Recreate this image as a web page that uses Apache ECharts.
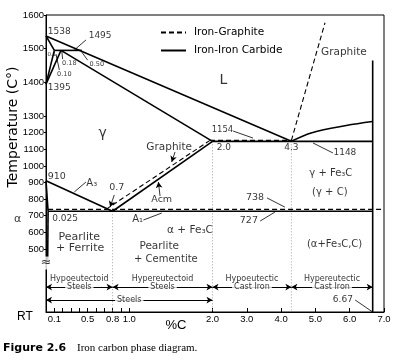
<!DOCTYPE html>
<html><head><meta charset="utf-8">
<script src="https://cdn.jsdelivr.net/npm/echarts@6/dist/echarts.min.js"></script>
<style>html,body{margin:0;padding:0;background:#fff}#c{width:399px;height:361px}</style>
</head><body><div id="c"></div>
<script>
// ---------------- data (real units: %C and °C; RT = room temperature) ----------------
const RT = 25;
// Iron - iron carbide (solid lines)
const liquidus       = [[0,1538],[4.3,1148]];
const deltaSolidus   = [[0,1538],[0.10,1495]];
const deltaGammaLow  = [[0,1395],[0.10,1495]];
const deltaGammaHigh = [[0,1395],[0.18,1495]];
const peritectic     = [[0.10,1495],[0.43,1495]];
const solidus        = [[0.18,1495],[2.0,1148]];
const a3Line         = [[0,910],[0.8,727]];
const alphaGamma     = [[0,910],[0.015,800],[0.025,727]];
const alphaSolvus    = [[0.025,727],[0.02,430]];
const eutectoid      = [[0.025,727],[6.67,727]];
const eutectic       = [[2.0,1148],[6.67,1148]];
const acmLine        = [[0.8,727],[2.0,1148]];
const fe3cLiquidus   = [[4.3,1148],[4.9,1200],[5.9,1243],[6.67,1267]];
const cementite      = [[6.67,1465],[6.67,RT]];
// Iron - graphite (dashed lines)
const graphiteAcm       = [[0.72,738],[1.97,1154]];
const graphiteEutectoid = [[0.025,738],[7.0,738]];
const graphiteEutectic  = [[1.97,1154],[4.3,1154]];
const graphiteLiquidus  = [[4.3,1154],[5.28,1577]];
// dotted composition dividers (from the invariant line down to RT)
const dividers = [[0.8,727],[2.0,1148],[4.3,1148]];
// structure bands along the bottom
const bandBounds = [0, 0.8, 2.0, 4.3, 6.67];
const bandTop    = ['Hypoeutectoid','Hypereutectoid','Hypoeutectic','Hypereutectic'];
const bandBottom = ['Steels','Steels','Cast Iron','Cast Iron'];
// axis ticks
const xTickValues  = [0,0.1,0.2,0.3,0.4,0.5,0.6,0.7,0.8,0.9,1.0,2,3,4,5,6,7];
const xLabelValues = [0,0.1,0.5,0.8,1.0,2,3,4,5,6,7];
const xLabelTexts  = ['0','0.1','0.5','0.8','1.0','2.0','3.0','4.0','5.0','6.0','7.0'];
const yTickValues  = [500,600,700,800,900,1000,1100,1200,1300,1400,1500,1600];

// ---------------- piecewise scales of the original drawing ----------------
const XB = 2, XK = 0.412, XMAX = 7;
const YB = 1300, YK = 2.03, YBRK = 430, YMIN_D = 120, YMAX = 1600;
function fx(c){ return c <= XB ? c : XB + (c - XB) * XK; }
function fy(t){
  if (t > YB) return YB + (t - YB) * YK;
  if (t >= YBRK) return t;
  return YMIN_D + (t - RT) * (YBRK - YMIN_D) / (YBRK - RT);
}
function pt(x, t){ return [fx(x), fy(t)]; }
function pd(x, d){ return [fx(x), d]; }   // d: display units in the broken (below-scale) zone
const ROW1 = 319, ROW2 = 270, ROW3 = 192, BRK = 415;

const BLACK = '#000';
const FONT = 'DejaVu Sans';
const SOLID = {color: BLACK, width: 1.6, type: 'solid'};
const DASH  = {color: BLACK, width: 1.1, type: [5, 3]};
const DOT   = {color: '#8a8a8a', width: 0.8, type: [1, 2]};

function lineSeries(name, pts, style, extra){
  return Object.assign({
    type: 'line', name: name, data: pts.map(p => pt(p[0], p[1])),
    symbol: 'none', silent: true, lineStyle: style, z: 3, clip: false,
    itemStyle: {color: BLACK}
  }, extra || {});
}

const series = [];
[graphiteAcm, graphiteEutectoid, graphiteEutectic, graphiteLiquidus].forEach(a =>
  series.push(lineSeries('Iron-Graphite', a, DASH)));
[liquidus, deltaSolidus, deltaGammaLow, deltaGammaHigh, peritectic, solidus, a3Line,
 eutectoid, eutectic, acmLine, cementite].forEach(a =>
  series.push(lineSeries('Iron-Iron Carbide', a, SOLID)));
series.push(lineSeries('Iron-Iron Carbide', alphaGamma, SOLID, {smooth: 0.4}));
series.push(lineSeries('Iron-Iron Carbide', alphaSolvus, SOLID));
series.push(lineSeries('Iron-Iron Carbide', fe3cLiquidus, SOLID, {smooth: 0.35}));
dividers.forEach(d => series.push(lineSeries('div', [[d[0], d[1]], [d[0], RT]], DOT, {z: 2})));

// leader lines and arrows (markLine)
function seg(a, b, sym, curv, w){
  return [{coord: a, symbol: sym[0], lineStyle: {curveness: curv || 0, width: w || 0.8, color: BLACK, type: 'solid'}},
          {coord: b, symbol: sym[1]}];
}
const NN = ['none','none'], NA = ['none','arrow'], AA = ['arrow','arrow'];
const mlData = [
  seg(pt(0.48,1526), pt(0.34,1496), NN, 0.3),
  seg(pt(0.20,1469), pt(0.19,1493), NN, 0),
  seg(pt(0.16,1437), pt(0.12,1484), NN, 0),
  seg(pt(0.50,1466), pt(0.43,1490), NN, 0),
  seg(pt(1.55,1084), pt(1.51,1024), NA, 0),
  seg(pt(0.48,903),  pt(0.34,843),  NN, 0.3),
  seg(pt(0.82,825),  pt(0.77,752),  NA, 0),
  seg(pt(1.37,819),  pt(1.35,903),  NA, 0),
  seg(pt(2.60,1210), pt(3.18,1168), NN, -0.3),
  seg(pt(4.93,1138), pt(5.51,1078), NN, 0.3),
  seg(pt(3.59,807),  pt(4.11,752),  NN, -0.3),
  seg(pt(3.39,668),  pt(3.82,722),  NN, 0.3),
  seg(pt(1.17,674),  pt(1.39,716),  NN, 0.3),
  seg(pt(-0.29,686), pt(0.01,752),  NN, -0.3),
  seg(pd(6.16,ROW3), pt(6.67,RT),   NN, -0.3)
];
for (let i = 0; i < bandBounds.length - 1; i++)
  mlData.push(seg(pd(bandBounds[i], ROW2), pd(bandBounds[i+1], ROW2), AA, 0, 1));
mlData.push(seg(pd(0, ROW3), pd(2.0, ROW3), AA, 0, 1));
series.push({
  type: 'line', name: 'marks', data: [], silent: true, z: 4,
  markLine: {silent: true, animation: false, symbolSize: [5, 6], label: {show: false},
             emphasis: {disabled: true}, data: mlData}
});

// text annotations
const ann = [
  ['1538', pt(0.16,1552), 9], ['1495', pt(0.65,1538), 9], ['1395', pt(0.16,1383), 9],
  ['0.18', pt(0.28,1457), 6.5], ['0.10', pt(0.22,1425), 6.5], ['0.50', pt(0.61,1454), 6.5],
  ['0.1', pt(0.07,1484), 5.5],
  ['L', pt(2.32,1407), 14], ['Graphite', pt(5.83,1490), 10.5],
  ['γ', pt(0.68,1198), 14], ['Graphite', pt(1.48,1114), 10.5],
  ['A₃', pt(0.55,897), 10], ['0.7', pt(0.85,867), 9.5], ['Acm', pt(1.39,795), 9.5],
  ['910', pt(0.13,933), 9.5], ['0.025', pt(0.23,680), 9], ['α', pt(-0.34,680), 11],
  ['A₁', pt(1.10,680), 10], ['α + Fe₃C', pt(1.73,614), 10.5],
  ['1154', pt(2.29,1216), 8.5], ['2.0', pt(2.33,1108), 9], ['4.3', pt(4.30,1108), 9],
  ['1148', pt(5.86,1078), 9], ['γ + Fe₃C', pt(5.45,957), 10], ['(γ + C)', pt(5.42,843), 10],
  ['738', pt(3.24,807), 9.5], ['727', pt(3.06,668), 9.5],
  ['Pearlite', pt(0.40,572), 11], ['+ Ferrite', pt(0.41,505), 11],
  ['Pearlite', pt(1.36,517), 10.5], ['+ Cementite', pt(1.44,439), 10],
  ['(α+Fe₃C,C)', pt(5.56,530), 10],
  ['6.67', pd(5.80,ROW3), 9], ['≈', pd(0,BRK), 13, true]
];
for (let i = 0; i < bandTop.length; i++){
  const mid = (bandBounds[i] + bandBounds[i+1]) / 2;
  ann.push([bandTop[i], pd(mid, ROW1), 8]);
  ann.push([bandBottom[i], pd(mid, ROW2), 8, true]);
}
ann.push(['Steels', pd(1.0, ROW3), 8, true]);

series.push({
  type: 'scatter', name: 'text', silent: true, clip: false, z: 6,
  symbolSize: 1, itemStyle: {color: 'rgba(0,0,0,0)'},
  data: ann.map(a => ({
    value: a[1], txt: a[0],
    label: Object.assign({show: true, position: 'inside', fontSize: a[2]},
      a[3] ? {backgroundColor: '#fff', padding: [0, 2]} : {})
  })),
  label: {show: true, position: 'inside', color: BLACK, fontFamily: FONT,
          formatter: p => p.data.txt}
});

function labelFor(values, texts, v, tf){
  for (let i = 0; i < values.length; i++) if (Math.abs(tf(values[i]) - v) < 1e-6) return texts[i];
  return '';
}

const option = {
  animation: false,
  backgroundColor: '#fff',
  grid: {left: 46, right: 15, top: 15, bottom: 49, show: true, borderColor: BLACK, borderWidth: 1,
         backgroundColor: 'transparent'},
  legend: {
    data: ['Iron-Graphite', 'Iron-Iron Carbide'], orient: 'vertical', left: 160, top: 27, padding: 0,
    itemWidth: 25, itemHeight: 10, itemGap: 7, selectedMode: false,
    itemStyle: {opacity: 0},
    textStyle: {fontFamily: FONT, fontSize: 10.5, color: BLACK, padding: [0,0,0,3]}
  },
  xAxis: {
    type: 'value', min: 0, max: fx(XMAX),
    axisLine: {show: true, lineStyle: {color: BLACK, width: 1}},
    axisTick: {show: true, inside: true, length: 4, customValues: xTickValues.map(fx),
               lineStyle: {color: BLACK}},
    axisLabel: {customValues: xLabelValues.map(fx), margin: 2, color: BLACK,
                fontFamily: 'Liberation Sans', fontSize: 9.5,
                formatter: v => labelFor(xLabelValues, xLabelTexts, v, fx)},
    splitLine: {show: false}
  },
  yAxis: {
    type: 'value', min: fy(RT), max: fy(YMAX),
    axisLine: {show: true, lineStyle: {color: BLACK, width: 1}},
    axisTick: {show: true, inside: false, length: 2, customValues: yTickValues.map(fy),
               lineStyle: {color: BLACK}},
    axisLabel: {customValues: yTickValues.map(fy), margin: 2, color: BLACK,
                fontFamily: 'Liberation Sans', fontSize: 9.5,
                formatter: v => labelFor(yTickValues, yTickValues.map(String), v, fy)},
    splitLine: {show: false}
  },
  graphic: [
    {type: 'text', x: 13, y: 127, rotation: Math.PI / 2, silent: true,
     style: {text: 'Temperature (C°)', fill: BLACK, font: '14px "DejaVu Sans"', align: 'center', verticalAlign: 'middle'}},
    {type: 'text', x: 25, y: 317, silent: true,
     style: {text: 'RT', fill: BLACK, font: '12px "Liberation Sans"', align: 'center', verticalAlign: 'middle'}},
    {type: 'text', x: 176, y: 325, silent: true,
     style: {text: '%C', fill: BLACK, font: '13px "Liberation Sans"', align: 'center', verticalAlign: 'middle'}},
    {type: 'text', x: 3, y: 348, silent: true,
     style: {text: 'Figure 2.6', fill: BLACK, font: 'bold 11px "DejaVu Sans"', align: 'left', verticalAlign: 'middle'}},
    {type: 'text', x: 77, y: 348, silent: true,
     style: {text: 'Iron carbon phase diagram.', fill: BLACK, font: '11px "Liberation Serif"', align: 'left', verticalAlign: 'middle'}}
  ],
  series: series
};

const chart = echarts.init(document.getElementById('c'), null, {renderer: 'canvas', width: 399, height: 361});
chart.setOption(option);
</script>
</body></html>
